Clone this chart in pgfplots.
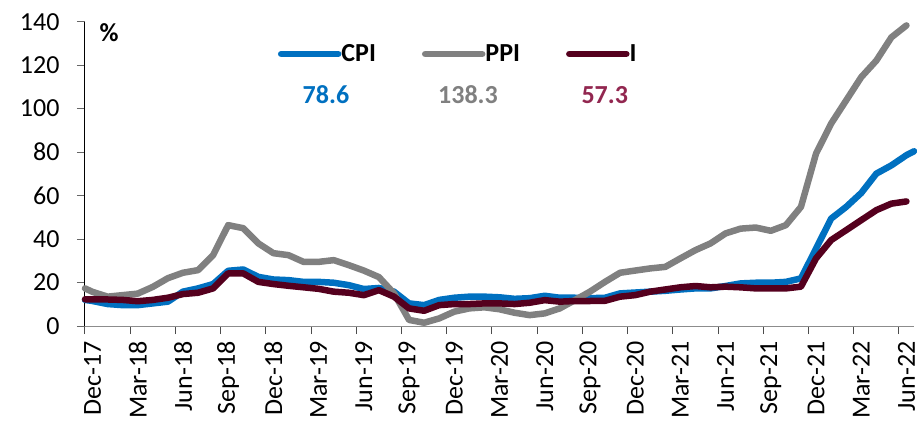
\documentclass[border=0pt]{standalone}
\usepackage{fontspec}
\setmainfont{Carlito}
\usepackage{pgfplots}
\pgfplotsset{compat=1.18}
\usepackage{pgfplotstable}
\definecolor{cpiblue}{HTML}{0070C0}
\definecolor{ppigray}{HTML}{808080}
\definecolor{imaroon}{HTML}{55001E}
\definecolor{ival}{HTML}{922750}
\pgfplotstableread{
x cpi ppi i
0 12 17.3 12.3
0.5 11.5 15.7 12.2
1.5 10.1 13.5 12.2
2.5 9.6 14.2 12.0
3.5 9.6 14.9 11.4
4.5 10.4 18.0 12.0
5.5 11.2 22.0 13.0
6.5 15.8 24.5 14.7
7.5 17.3 25.7 15.3
8.5 19.3 32.6 17.3
9.5 25.4 46.4 24.2
10.5 26.0 45.0 24.2
11.5 22.6 38.0 20.3
12.5 21.4 33.5 19.3
13.5 21.1 32.6 18.5
14.5 20.3 29.5 17.8
15.5 20.3 29.5 17.1
16.5 19.9 30.3 15.8
17.5 18.8 28.0 15.3
18.5 17.0 25.5 14.2
19.5 17.5 22.5 16.5
20.5 15.8 15.0 13.5
21.5 10.4 2.8 8.1
22.5 9.6 1.5 7.0
23.5 12.0 3.5 9.6
24.5 13.0 6.6 10.1
25.5 13.5 8.1 10.1
26.5 13.5 8.6 10.4
27.5 13.2 7.7 10.4
28.5 12.5 6.1 10.1
29.5 12.8 5.0 10.7
30.5 13.9 5.8 11.9
31.5 13.0 8.1 11.2
32.5 13.0 11.9 11.5
33.5 12.8 15.8 11.5
34.5 13.0 20.3 11.6
35.5 15.0 24.5 13.5
36.5 15.4 25.5 14.2
37.5 15.8 26.5 15.8
38.5 16.2 27.2 16.8
39.5 16.8 31.1 17.8
40.5 17.3 34.9 18.4
41.5 17.3 38.0 17.8
42.5 18.4 42.6 18.1
43.5 19.6 44.8 17.8
44.5 19.9 45.3 17.3
45.5 19.9 43.8 17.3
46.5 20.3 46.4 17.3
47.5 21.9 54.8 18.1
48.5 35.6 79.3 31.1
49.5 49.4 93.1 39.5
50.5 54.8 103.8 44.1
51.5 61.2 114.5 48.7
52.5 70.1 122.1 53.3
53.5 73.9 132.8 56.3
54.5 78.6 138.3 57.3
55 80.4 nan nan
}\data
\begin{document}
\begin{tikzpicture}
\begin{axis}[
  width=829bp, height=304.3bp, scale only axis,
  xmin=0, xmax=55, ymin=0, ymax=140,
  clip=false,
  axis x line=bottom, axis y line=left,
  axis line style={-},
  x axis line style={draw=black!45, line width=1bp},
  y axis line style={draw=black, line width=1bp},
  tick align=outside,
  major tick length=8bp,
  ytick={0,20,...,140},
  y tick style={draw=black!60, line width=1bp},
  x tick style={draw=black!70, line width=1bp},
  xtick={0,3,...,54},
  xticklabels={},
  extra x ticks={0.5,3.5,6.5,9.5,12.5,15.5,18.5,21.5,24.5,27.5,30.5,33.5,36.5,39.5,42.5,45.5,48.5,51.5,54.5},
  extra x tick labels={Dec-17,Mar-18,Jun-18,Sep-18,Dec-18,Mar-19,Jun-19,Sep-19,Dec-19,Mar-20,Jun-20,Sep-20,Dec-20,Mar-21,Jun-21,Sep-21,Dec-21,Mar-22,Jun-22},
  extra x tick style={major tick length=0bp},
  tick label style={font=\fontsize{26bp}{30bp}\selectfont},
  /pgf/number format/assume math mode=true,
  yticklabel style={xshift=-14bp},
  xticklabel style={yshift=-12bp, rotate=90, anchor=east},
  legend columns=3,
  legend style={at={(rel axis cs:0.2325,0.894)}, anchor=west, draw=none, fill=none,
    inner sep=0pt, font=\fontsize{26bp}{30bp}\selectfont\bfseries,
    nodes={inner sep=0bp},
    /tikz/every even column/.append style={column sep=46bp}},
  legend image code/.code={\draw[#1, line cap=round] (0bp,0bp) -- (57bp,0bp);},
]
\addplot[cpiblue, line width=6.5bp, line join=round, line cap=round] table[x=x, y=cpi] {\data};
\addplot[ppigray, line width=6.5bp, line join=round, line cap=round] table[x=x, y=ppi] {\data};
\addplot[imaroon, line width=6.5bp, line join=round, line cap=round] table[x=x, y=i] {\data};
\legend{CPI,PPI,I}
\node[font=\fontsize{26bp}{30bp}\selectfont\bfseries] at (rel axis cs:0.029,0.963) {\%};
\node[font=\fontsize{26bp}{30bp}\selectfont\bfseries, text=cpiblue] at (rel axis cs:0.2907,0.759) {78.6};
\node[font=\fontsize{26bp}{30bp}\selectfont\bfseries, text=ppigray] at (rel axis cs:0.462,0.759) {138.3};
\node[font=\fontsize{26bp}{30bp}\selectfont\bfseries, text=ival] at (rel axis cs:0.627,0.759) {57.3};
\end{axis}
\pgfresetboundingbox
\path[use as bounding box] (-85bp,-95bp) rectangle (832bp,326bp);
\end{tikzpicture}
\end{document}
